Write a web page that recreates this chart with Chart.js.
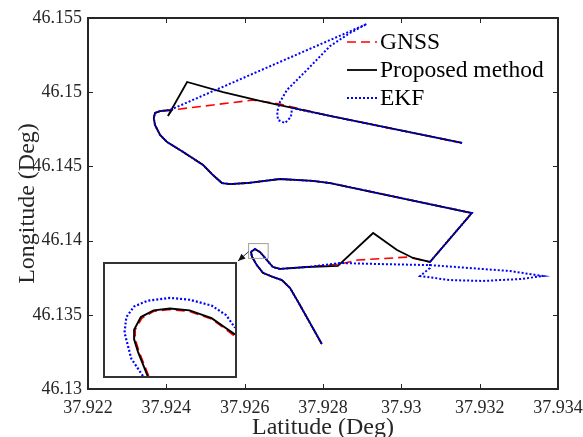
<!DOCTYPE html>
<html>
<head>
<meta charset="utf-8">
<script src="https://cdn.jsdelivr.net/npm/chart.js@4.4.0/dist/chart.umd.min.js"></script>
<style>
  html, body { margin: 0; padding: 0; background: #fff; }
  #wrap { position: relative; width: 583px; height: 437px; }
  #main { position: absolute; left: 0; top: 0; }
  #insetBox { position: absolute; left: 103px; top: 262px; width: 134px; height: 116px;
              background: #fff; border: 2px solid #333; box-sizing: border-box; }
  #inset { display: block; }
</style>
</head>
<body>
<div id="wrap">
  <canvas id="main" width="583" height="437"></canvas>
  <div id="insetBox"><canvas id="inset" width="130" height="112"></canvas></div>
</div>
<script>
// axes
const xTicks = [37.922, 37.924, 37.926, 37.928, 37.93, 37.932, 37.934];
const xTickLabels = ['37.922', '37.924', '37.926', '37.928', '37.93', '37.932', '37.934'];
const yTicks = [46.13, 46.135, 46.14, 46.145, 46.15, 46.155];
const yTickLabels = ['46.13', '46.135', '46.14', '46.145', '46.15', '46.155'];
const seriesNames = ['GNSS', 'Proposed method', 'EKF'];

// shared parts of the route (all three agree here)
const eastTopLat = [37.93155, 37.92818];
const eastTopLon = [46.14658, 46.14840];
const westBendLat = [37.92384, 37.92371, 37.92368, 37.92371, 37.92384, 37.92402, 37.92443, 37.92494, 37.92519,
  37.92542, 37.92563, 37.92606, 37.92690, 37.92774, 37.92818, 37.93180, 37.93073];
const westBendLon = [46.14873, 46.14860, 46.14826, 46.14779, 46.14712, 46.14664, 46.14597, 46.14509, 46.14442,
  46.14388, 46.14381, 46.14388, 46.14415, 46.14402, 46.14388, 46.14186, 46.13856];
const loopLat = [37.92759, 37.92690, 37.92672, 37.92652, 37.92639, 37.92626, 37.92616, 37.92619, 37.92631,
  37.92647, 37.92672, 37.92695, 37.92716, 37.92741, 37.92797];
const loopLon = [46.13822, 46.13809, 46.13822, 46.13883, 46.13923, 46.13943, 46.13923, 46.13889, 46.13835,
  46.13782, 46.13755, 46.13734, 46.13680, 46.13566, 46.13303];

// first GNSS outage (top)
const gnssOut1Lat = [37.92690, 37.92621, 37.92519, 37.92435, 37.92409];
const gnssOut1Lon = [46.14920, 46.14947, 46.14914, 46.14887, 46.14880];
const propOut1Lat = [37.92677, 37.92639, 37.92545, 37.92453, 37.92404, 37.92414];
const propOut1Lon = [46.14920, 46.14941, 46.15001, 46.15069, 46.14840, 46.14880];
const ekfOut1Lat = [37.92721, 37.92718, 37.92703, 37.92685, 37.92683, 37.92690, 37.92708, 37.92759,
  37.92818, 37.92869, 37.92912, 37.92409];
const ekfOut1Lon = [46.14893, 46.14833, 46.14792, 46.14813, 46.14867, 46.14934, 46.15015, 46.15150,
  46.15311, 46.15399, 46.15460, 46.14880];

// second GNSS outage (bottom)
const gnssOut2Lat = [37.93017, 37.92889, 37.92843];
const gnssOut2Lon = [46.13889, 46.13869, 46.13842];
const propOut2Lat = [37.93030, 37.92989, 37.92928, 37.92838];
const propOut2Lon = [46.13883, 46.13937, 46.14051, 46.13829];
const ekfOut2Lat = [37.93073, 37.93048, 37.93124, 37.93208, 37.93303, 37.93362, 37.93277, 37.93175,
  37.93073, 37.92945, 37.92843];
const ekfOut2Lon = [46.13815, 46.13761, 46.13734, 46.13728, 46.13741, 46.13761, 46.13795, 46.13815,
  46.13835, 46.13842, 46.13849];

// zoomed window (inset)
const insetXRange = [37.9261, 37.9266];
const insetYRange = [46.1388, 46.1398];
const insetGnssLat = [37.926268, 37.926231, 37.926216, 37.926216, 37.926242, 37.926287, 37.92635, 37.926425, 37.92651, 37.926566, 37.9266];
const insetGnssLon = [46.1388, 46.139016, 46.139128, 46.139214, 46.139317, 46.139378, 46.139394, 46.139378, 46.139309, 46.139214, 46.139154];
const insetPropLat = [37.926264, 37.926227, 37.926212, 37.926212, 37.926238, 37.926287, 37.92635, 37.926425, 37.92651, 37.926563, 37.9266];
const insetPropLon = [46.1388, 46.139016, 46.139128, 46.139214, 46.139326, 46.139386, 46.139403, 46.139386, 46.139317, 46.139231, 46.139171];
const insetEkfLat = [37.926246, 37.926201, 37.926175, 37.926182, 37.926212, 37.926264, 37.92635, 37.926425, 37.92651, 37.926566, 37.9266];
const insetEkfLon = [46.1388, 46.138955, 46.139188, 46.139326, 46.139421, 46.139472, 46.139498, 46.139481, 46.139429, 46.139343, 46.139231];

const pts = (lats, lons) => lats.map((v, i) => ({ x: v, y: lons[i] }));
const route = (out1, out2) => [
  ...pts(eastTopLat, eastTopLon), ...out1, ...pts(westBendLat, westBendLon), ...out2, ...pts(loopLat, loopLon)
];

const gnssData = route(pts(gnssOut1Lat, gnssOut1Lon), pts(gnssOut2Lat, gnssOut2Lon));
const propData = route(pts(propOut1Lat, propOut1Lon), pts(propOut2Lat, propOut2Lon));
const ekfData = route(pts(ekfOut1Lat, ekfOut1Lon), pts(ekfOut2Lat, ekfOut2Lon));

const SERIF = '"Liberation Serif", "Times New Roman", serif';
const AXIS_COLOR = '#262626';

const styles = [
  { color: '#ff0000', width: 1.6, dash: [9, 5], order: 3 },
  { color: '#000000', width: 1.8, dash: [], order: 2 },
  { color: '#0000ff', width: 2, dash: [2, 2], order: 1 },
];

function makeDatasets(list, widthScale = 1) {
  return list.map((d, i) => ({
    label: seriesNames[i],
    data: d,
    showLine: true,
    borderColor: styles[i].color,
    borderWidth: styles[i].width * widthScale,
    borderDash: styles[i].dash,
    pointRadius: 0,
    tension: 0,
    fill: false,
    order: styles[i].order,
  }));
}

const decorPlugin = {
  id: 'decor',
  afterDatasetsDraw(chart) {
    const { ctx, chartArea: a, scales: { x, y } } = chart;
    const seg = (x0, y0, x1, y1) => { ctx.beginPath(); ctx.moveTo(x0, y0); ctx.lineTo(x1, y1); ctx.stroke(); };
    ctx.save();
    ctx.strokeStyle = AXIS_COLOR;
    ctx.lineWidth = 1;
    xTicks.forEach(v => {
      const px = Math.round(x.getPixelForValue(v)) + 0.5;
      seg(px, a.bottom, px, a.bottom - 5);
      seg(px, a.top, px, a.top + 5);
    });
    yTicks.forEach(v => {
      const py = Math.round(y.getPixelForValue(v)) + 0.5;
      seg(a.left, py, a.left + 5, py);
      seg(a.right, py, a.right - 5, py);
    });
    ctx.lineWidth = 2;
    ctx.strokeRect(a.left, a.top, a.right - a.left, a.bottom - a.top);

    // zoom window marker + arrow to inset
    const rx0 = x.getPixelForValue(insetXRange[0]), rx1 = x.getPixelForValue(insetXRange[1]);
    const ry0 = y.getPixelForValue(insetYRange[1]), ry1 = y.getPixelForValue(insetYRange[0]);
    ctx.strokeStyle = '#a0a0a0';
    ctx.lineWidth = 1;
    ctx.strokeRect(rx0, ry0, rx1 - rx0, ry1 - ry0);
    const ax0 = rx0, ay0 = ry0 + (ry1 - ry0) * 0.55, ax1 = 238, ay1 = 261;
    ctx.strokeStyle = '#333';
    seg(ax0, ay0, ax1, ay1);
    const ang = Math.atan2(ay1 - ay0, ax1 - ax0);
    ctx.fillStyle = '#111';
    ctx.beginPath();
    ctx.moveTo(ax1, ay1);
    ctx.lineTo(ax1 - 8 * Math.cos(ang - 0.4), ay1 - 8 * Math.sin(ang - 0.4));
    ctx.lineTo(ax1 - 8 * Math.cos(ang + 0.4), ay1 - 8 * Math.sin(ang + 0.4));
    ctx.closePath();
    ctx.fill();

    // legend (no box, inside top right)
    ctx.font = '23.5px ' + SERIF;
    ctx.textBaseline = 'middle';
    ctx.fillStyle = '#000';
    seriesNames.forEach((name, i) => {
      const ly = a.top + 24 + i * 28;
      const lx = a.right - 211;
      ctx.strokeStyle = styles[i].color;
      ctx.lineWidth = styles[i].width;
      ctx.setLineDash(styles[i].dash);
      seg(lx, ly, lx + 30, ly);
      ctx.setLineDash([]);
      ctx.fillText(name, lx + 33, ly + 1);
    });
    ctx.restore();
  }
};

new Chart(document.getElementById('main'), {
  type: 'scatter',
  data: { datasets: makeDatasets([gnssData, propData, ekfData]) },
  options: {
    responsive: false,
    animation: false,
    devicePixelRatio: 1,
    layout: { padding: { top: 18, right: 25, left: 0, bottom: 0 } },
    plugins: { legend: { display: false }, tooltip: { enabled: false } },
    scales: {
      x: {
        type: 'linear', min: 37.922, max: 37.934,
        afterBuildTicks: (axis) => { axis.ticks = xTicks.map(v => ({ value: v })); },
        afterFit: (axis) => { axis.height = 48; axis.paddingLeft = 0; axis.paddingRight = 0; },
        grid: { display: false, drawTicks: false },
        border: { display: false },
        ticks: {
          callback: (v, i) => xTickLabels[i], maxRotation: 0, autoSkip: false,
          padding: 8, color: AXIS_COLOR, font: { family: SERIF, size: 18 }
        },
        title: {
          display: true, text: 'Latitude (Deg)', color: AXIS_COLOR,
          font: { family: SERIF, size: 24, lineHeight: 1 }, padding: { top: 0, bottom: -3 }
        }
      },
      y: {
        type: 'linear', min: 46.13, max: 46.155,
        afterBuildTicks: (axis) => { axis.ticks = yTicks.map(v => ({ value: v })); },
        afterFit: (axis) => { axis.width = 88; axis.paddingTop = 0; axis.paddingBottom = 0; },
        grid: { display: false, drawTicks: false },
        border: { display: false },
        ticks: {
          callback: (v, i) => yTickLabels[i], autoSkip: false,
          padding: 6, color: AXIS_COLOR, font: { family: SERIF, size: 18 }
        },
        title: {
          display: true, text: 'Longitude (Deg)', color: AXIS_COLOR,
          font: { family: SERIF, size: 24, lineHeight: 1 }, padding: { top: 16, bottom: 0 }
        }
      }
    }
  },
  plugins: [decorPlugin]
});

new Chart(document.getElementById('inset'), {
  type: 'scatter',
  data: {
    datasets: makeDatasets([
      pts(insetGnssLat, insetGnssLon), pts(insetPropLat, insetPropLon), pts(insetEkfLat, insetEkfLon)
    ], 1.1)
  },
  options: {
    responsive: false,
    animation: false,
    devicePixelRatio: 1,
    layout: { padding: 0 },
    plugins: { legend: { display: false }, tooltip: { enabled: false } },
    scales: {
      x: { type: 'linear', display: false, min: insetXRange[0], max: insetXRange[1] },
      y: { type: 'linear', display: false, min: insetYRange[0], max: insetYRange[1] }
    }
  }
});
</script>
</body>
</html>
